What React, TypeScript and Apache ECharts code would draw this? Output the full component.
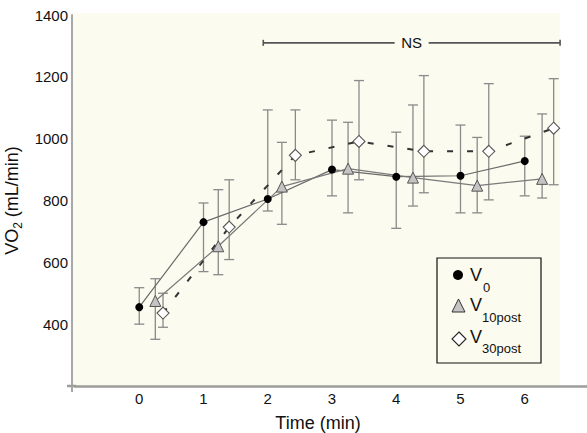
import React, { useEffect, useRef } from "react";
import * as echarts from "echarts";

// ---- data ----
const timesV0 = [0, 1, 2, 3, 4, 5, 6];
const timesV10 = [0.25, 1.23, 2.22, 3.25, 4.26, 5.26, 6.27];
const timesV30 = [0.37, 1.4, 2.43, 3.42, 4.43, 5.44, 6.45];

const v0Mean = [455, 730, 805, 900, 877, 880, 928];
const v0Low = [400, 570, 766, 815, 710, 760, 815];
const v0High = [518, 792, 1093, 1060, 1021, 1044, 1008];

const v10Mean = [475, 652, 845, 903, 874, 848, 870];
const v10Low = [351, 560, 723, 760, 782, 760, 808];
const v10High = [547, 835, 988, 1053, 1109, 1004, 1080];

const v30Mean = [436, 714, 946, 991, 959, 959, 1034];
const v30Low = [390, 609, 867, 867, 825, 802, 851];
const v30High = [500, 867, 1093, 1188, 1204, 1178, 1194];

const xTickLabels = ["0", "1", "2", "3", "4", "5", "6"];
const yTickLabels = ["400", "600", "800", "1000", "1200", "1400"];

const nsStart = 1.93;
const nsEnd = 6.55;
const nsLevel = 1310;
const nsText = "NS";

const FONT = "'Liberation Sans', Arial, Helvetica, sans-serif";
const CREAM = "#fcfbef";

function pairs(xs: number[], ys: number[]) {
  return xs.map((x, i) => [x, ys[i]]);
}
function bars(xs: number[], lo: number[], hi: number[]) {
  return xs.map((x, i) => [x, lo[i], hi[i]]);
}

const errColor = "#8a8a8a";

function errorSeries(data: number[][]) {
  return {
    type: "custom",
    z: 1,
    silent: true,
    encode: { x: 0, y: [1, 2] },
    data,
    renderItem: (params: any, api: any) => {
      const x = api.value(0);
      const pLo = api.coord([x, api.value(1)]);
      const pHi = api.coord([x, api.value(2)]);
      const hw = 5;
      const st = { stroke: errColor, lineWidth: 1.3 };
      return {
        type: "group",
        children: [
          { type: "line", shape: { x1: pLo[0], y1: pLo[1], x2: pHi[0], y2: pHi[1] }, style: st },
          { type: "line", shape: { x1: pLo[0] - hw, y1: pLo[1], x2: pLo[0] + hw, y2: pLo[1] }, style: st },
          { type: "line", shape: { x1: pHi[0] - hw, y1: pHi[1], x2: pHi[0] + hw, y2: pHi[1] }, style: st },
        ],
      };
    },
  };
}

export default function App() {
  const ref = useRef<HTMLDivElement>(null);
  useEffect(() => {
    document.body.style.margin = "0";
    const chart = echarts.init(ref.current!, null, { renderer: "svg" });
    const option: any = {
      animation: false,
      backgroundColor: "#ffffff",
      textStyle: { fontFamily: FONT },
      grid: { left: 75, top: 15, width: 514, height: 371, containLabel: false, outerBoundsMode: "none" },
      xAxis: {
        type: "value",
        min: -1,
        max: 7,
        interval: 1,
        name: "Time (min)",
        nameLocation: "middle",
        nameGap: 28,
        nameTextStyle: { fontSize: 18, color: "#111", fontFamily: FONT, padding: [0, 28, 0, 0] },
        axisLine: { show: true, onZero: false, lineStyle: { color: "#9c9c9c", width: 2.5 } },
        axisTick: { show: false },
        splitLine: { show: false },
        axisLabel: {
          fontSize: 15,
          color: "#111",
          fontFamily: FONT,
          margin: 5,
          formatter: (v: number) => (v >= 0 && v <= 6 ? xTickLabels[v] : ""),
        },
      },
      yAxis: {
        type: "value",
        min: 200,
        max: 1400,
        interval: 200,
        offset: 3,
        name: "{a|VO}{b|2}{a| (mL/min)}",
        nameLocation: "middle",
        nameGap: 43,
        nameTextStyle: {
          fontFamily: FONT,
          color: "#111",
          rich: {
            a: { fontSize: 18, fontFamily: FONT, color: "#111" },
            b: { fontSize: 12, fontFamily: FONT, color: "#111", padding: [11, 0, 0, 0] },
          },
        },
        axisLine: { show: true, onZero: false, lineStyle: { color: "#a8a8a8", width: 2 } },
        axisTick: { show: false },
        splitLine: { show: false },
        axisLabel: {
          fontSize: 15,
          color: "#111",
          fontFamily: FONT,
          margin: 4,
          formatter: (v: number) => (yTickLabels.includes(String(v)) ? String(v) : ""),
        },
      },
      graphic: [
        { type: "rect", z: -10, silent: true, shape: { x: 72, y: 13, width: 488, height: 375 }, style: { fill: CREAM } },
        { type: "line", z: 5, silent: true, shape: { x1: 67, y1: 386, x2: 76, y2: 386 }, style: { stroke: "#9c9c9c", lineWidth: 2.5 } },
        { type: "line", z: 5, silent: true, shape: { x1: 72, y1: 386, x2: 72, y2: 392 }, style: { stroke: "#a8a8a8", lineWidth: 2 } },
        // legend box
        { type: "rect", z: 50, shape: { x: 437, y: 258, width: 104, height: 105 }, style: { fill: CREAM, stroke: "#111", lineWidth: 1.2 } },
        { type: "circle", z: 51, shape: { cx: 458, cy: 275, r: 5 }, style: { fill: "#000" } },
        { type: "text", z: 51, style: { text: "V", x: 470, y: 275, fontSize: 18, fontFamily: FONT, fill: "#111", align: "left", verticalAlign: "middle" } },
        { type: "text", z: 51, style: { text: "0", x: 483, y: 287, fontSize: 13, fontFamily: FONT, fill: "#111", align: "left", verticalAlign: "middle" } },
        { type: "polygon", z: 51, shape: { points: [[452, 312], [465, 312], [458.5, 299]] }, style: { fill: "#c4c4c4", stroke: "#333", lineWidth: 1 } },
        { type: "text", z: 51, style: { text: "V", x: 470, y: 305, fontSize: 18, fontFamily: FONT, fill: "#111", align: "left", verticalAlign: "middle" } },
        { type: "text", z: 51, style: { text: "10post", x: 482, y: 317, fontSize: 13, fontFamily: FONT, fill: "#111", align: "left", verticalAlign: "middle" } },
        { type: "polygon", z: 51, shape: { points: [[459, 332], [466, 339], [459, 346], [452, 339]] }, style: { fill: "#fff", stroke: "#222", lineWidth: 1.1 } },
        { type: "text", z: 51, style: { text: "V", x: 470, y: 337, fontSize: 18, fontFamily: FONT, fill: "#111", align: "left", verticalAlign: "middle" } },
        { type: "text", z: 51, style: { text: "30post", x: 482, y: 348, fontSize: 13, fontFamily: FONT, fill: "#111", align: "left", verticalAlign: "middle" } },
      ],
      series: [
        errorSeries(bars(timesV0, v0Low, v0High)),
        errorSeries(bars(timesV10, v10Low, v10High)),
        errorSeries(bars(timesV30, v30Low, v30High)),
        {
          name: "V0",
          type: "line",
          z: 3,
          data: pairs(timesV0, v0Mean),
          symbol: "circle",
          symbolSize: 8,
          itemStyle: { color: "#000" },
          lineStyle: { color: "#6a6a6a", width: 1.2 },
        },
        {
          name: "V10post",
          type: "line",
          z: 3,
          data: pairs(timesV10, v10Mean),
          symbol: "triangle",
          symbolSize: 11,
          itemStyle: { color: "#c4c4c4", borderColor: "#555", borderWidth: 1 },
          lineStyle: { color: "#7a7a7a", width: 1.2 },
        },
        {
          name: "V30post",
          type: "line",
          z: 3,
          data: pairs(timesV30, v30Mean),
          symbol: "diamond",
          symbolSize: 12,
          itemStyle: { color: "#ffffff", borderColor: "#555", borderWidth: 1.1 },
          lineStyle: { color: "#333", width: 2, type: [6, 14] },
        },
        {
          type: "custom",
          z: 4,
          silent: true,
          encode: { x: [0, 1], y: 2 },
          data: [[nsStart, nsEnd, nsLevel]],
          renderItem: (params: any, api: any) => {
            const p1 = api.coord([api.value(0), api.value(2)]);
            const p2 = api.coord([api.value(1), api.value(2)]);
            const mid = (p1[0] + p2[0]) / 2;
            const gap = 17;
            const st = { stroke: "#555", lineWidth: 1.6 };
            return {
              type: "group",
              children: [
                { type: "line", shape: { x1: p1[0], y1: p1[1], x2: mid - gap, y2: p1[1] }, style: st },
                { type: "line", shape: { x1: mid + gap, y1: p1[1], x2: p2[0], y2: p2[1] }, style: st },
                { type: "line", shape: { x1: p1[0], y1: p1[1] - 3, x2: p1[0], y2: p1[1] + 3 }, style: st },
                { type: "line", shape: { x1: p2[0], y1: p2[1] - 3, x2: p2[0], y2: p2[1] + 3 }, style: st },
                {
                  type: "text",
                  style: { text: nsText, x: mid, y: p1[1], fontSize: 15, fontFamily: FONT, fill: "#111", align: "center", verticalAlign: "middle" },
                },
              ],
            };
          },
        },
      ],
    };
    chart.setOption(option);
    return () => chart.dispose();
  }, []);
  return <div ref={ref} style={{ position: "absolute", left: 0, top: 0, width: 587, height: 433 }} />;
}
